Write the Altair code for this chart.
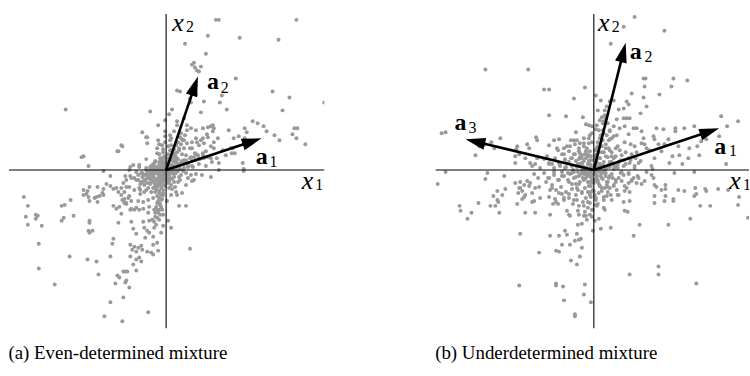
import altair as alt
import pandas as pd

# ---------------- data (offsets from the origin of each panel) ----------------
# Panel (a): even-determined mixture, points per quadrant (x1, x2)
A_UL = [(-101,61),(-16,59),(-8,45),(-24,38),(-20,33),(-8,30),(-19,27),(-44,24),(-49,19),(-85,13),(-83,14),(-78,4),(-27,5),(-20,11),(-36,3),(-1,39),(-1,34),(-7,26),(-3,21),(-7,16),(-13,6),(-8,2),(-3,8),(-1,28),(-1,50),(-19,33),(-45,25),(-48,19),(-9,22),(-9,17),(-4,25),(-3,18),(-33,5),(-27,3),(-5,12),(-11,9),(-15,4),(-4,4),(-2,14),(-6,7)]
A_UR = [(50,151),(53,151),(131,151),(42,135),(74,133),(113,131),(19,127),(40,117),(26,106),(29,103),(31,100),(33,99),(35,104),(28,108),(70,92),(107,79),(124,73),(159,68),(56,75),(54,68),(61,61),(38,69),(117,60),(35,58),(30,76),(11,80),(14,79),(24,72),(25,68),(6,61),(3,56),(11,49),(18,52),(45,44),(48,42),(63,40),(79,42),(87,49),(92,47),(98,44),(101,39),(129,42),(132,42),(127,36),(131,32),(109,35),(114,30),(140,26),(79,32),(81,38),(73,34),(68,32),(52,32),(41,36),(37,32),(31,28),(66,17),(69,17),(57,20),(60,15),(77,7),(78,1),(53,7),(51,12),(45,12),(40,19),(48,22),(37,17),(29,17),(26,22),(18,22),(16,31),(15,37),(8,39),(5,32),(4,35),(4,30),(5,25),(6,20),(8,17),(10,13),(12,11),(15,8),(11,45),(21,45),(25,42),(30,40),(37,42),(42,43),(47,45),(47,39),(18,30),(21,27),(24,22),(26,28),(30,32),(33,25),(35,30),(38,27),(42,33),(45,24),(48,28),(16,16),(20,15),(25,13),(30,16),(33,12),(37,15),(42,13),(22,5),(27,3),(33,6),(40,4),(46,8),(65,22),(67,22),(3,3),(6,5),(9,8),(2,9),(13,4),(18,10),(7,13),(2,24),(10,26),(13,20)]
A_LL = [(-63,-1),(-56,-6),(-41,-6),(-36,-6),(-60,-14),(-56,-16),(-53,-19),(-50,-18),(-77,-17),(-69,-17),(-63,-19),(-64,-23),(-83,-20),(-79,-21),(-80,-24),(-83,-25),(-78,-27),(-72,-28),(-70,-27),(-67,-26),(-63,-25),(-77,-31),(-69,-32),(-143,-27),(-139,-36),(-141,-47),(-139,-55),(-131,-45),(-129,-46),(-131,-49),(-125,-56),(-105,-36),(-102,-35),(-96,-30),(-93,-46),(-105,-51),(-103,-48),(-128,-74),(-128,-99),(-97,-87),(-112,-115),(-79,-90),(-70,-92),(-68,-105),(-77,-51),(-77,-53),(-78,-61),(-77,-63),(-74,-61),(-56,-87),(-54,-74),(-53,-69),(-45,-44),(-48,-53),(-53,-36),(-50,-39),(-44,-30),(-42,-33),(-40,-34),(-42,-29),(-38,-28),(-35,-31),(-37,-26),(-48,-22),(-40,-17),(-45,-18),(-28,-31),(-27,-40),(-32,-40),(-36,-40),(-35,-52),(-33,-59),(-30,-64),(-23,-52),(-22,-58),(-17,-51),(-19,-61),(-17,-63),(-13,-67),(-21,-68),(-13,-75),(-8,-81),(-15,-83),(-13,-85),(-5,-63),(-3,-56),(-36,-75),(-32,-77),(-28,-78),(-25,-76),(-24,-80),(-30,-82),(-34,-80),(-36,-87),(-30,-90),(-27,-88),(-25,-92),(-33,-95),(-30,-101),(-43,-102),(-41,-102),(-39,-102),(-40,-111),(-41,-113),(-49,-106),(-47,-108),(-51,-114),(-37,-118),(-43,-128),(-56,-133),(-62,-147),(-44,-152),(-18,-143),(-9,-73),(-19,-82),(-37,0),(-30,-2),(-25,-3),(-20,-5),(-17,-8),(-13,-7),(-10,-3),(-7,-7),(-12,-12),(-17,-13),(-22,-15),(-25,-12),(-30,-10),(-35,-8),(-40,-10),(-43,-13),(-37,-17),(-32,-20),(-27,-18),(-20,-20),(-15,-22),(-10,-20),(-7,-23),(-13,-28),(-18,-30),(-23,-32),(-17,-37),(-12,-40),(-8,-43),(-18,-43),(-23,-39),(-30,-38),(-35,-39),(-40,-33),(-43,-30),(-45,-25),(-42,-22),(-47,-37),(-5,-30),(-6,-35),(-4,-40),(-9,-33),(-11,-47),(-7,-50),(-10,-55),(-12,-58),(-6,-45),(-3,-25),(-2,-15),(-4,-10),(-8,-15),(-3,-45),(-14,-50),(-3,-3),(-6,-5),(-2,-6),(-9,-10),(-5,-18),(-11,-16),(-4,-2),(-14,-2),(-21,-10),(-26,-24)]
A_LR = [(78,-1),(53,0),(45,-7),(36,-5),(26,-11),(20,-15),(16,-23),(11,-25),(5,-25),(6,-19),(13,-36),(20,-36),(2,-51),(5,-58),(24,-79),(1,-31),(10,-3),(15,-5),(8,-7),(3,-10),(12,-12),(5,-15),(9,-17),(14,-10),(12,-1),(17,-1),(20,-3),(25,-5),(28,-10),(13,-7),(8,-12),(10,-22),(2,-13),(3,-18),(4,-2),(2,-5),(6,-3),(1,-8),(30,-4),(22,-8)]
# dense core of panel (a)
A_CORE = [(0,0),(4,0),(-4,0),(8,0),(-8,0),(12,0),(-12,0),(-16,0),(-20,0),(0,4),(4,4),(-4,4),(8,4),(-8,4),(-12,4),(-16,3),(-20,2),(0,-4),(4,-4),(-4,-4),(8,-4),(-8,-4),(-12,-4),(-16,-4),(-20,-4),(-24,-3),(0,8),(3,8),(-3,8),(7,9),(-7,8),(11,7),(-11,8),(0,-8),(4,-8),(-4,-8),(-8,-8),(-12,-8),(-16,-9),(-20,-9),(-24,-7),(2,12),(-2,12),(6,13),(10,11),(-6,12),(0,-12),(-4,-12),(-8,-12),(-12,-13),(-16,-14),(-20,-13),(3,-12),(6,-9),(2,16),(6,17),(9,15),(-1,-16),(-5,-16),(-9,-17),(-13,-18),(-3,-20),(-7,-21),(-11,-22),(-5,-25),(-9,-26),(-4,-29),(-8,-31),(-6,-34),(-10,-37),(-7,-40),(-11,-43),(-9,-48),(-12,-52),(14,5),(18,6),(22,7),(26,9),(30,10),(34,11),(38,12),(16,9),(20,10),(24,12),(28,13),(32,15),(14,1),(18,2),(22,3),(26,4),(11,18),(13,22),(15,26),(17,30),(12,28),(19,35),(14,33),(21,40),(8,21),(10,25),(4,20),(-28,-10),(-24,-12),(-28,-5),(-32,-8),(-18,-18),(-22,-22),(-26,-20),
          (2,2),(6,2),(-2,2),(-6,2),(-10,2),(-14,1),(-18,-2),(2,-2),(6,-2),(-2,-2),(-6,-2),(-10,-2),(-14,-3),(-18,-6),(-22,-5),(2,6),(-2,6),(-6,-10),(-10,-10),(-14,-11),(-2,-10),(2,-10),(-6,-14),(-10,-15),(5,10),(-5,10),(10,3),(-26,-14),(-22,-10),(-14,-6),(-3,-23),(-7,-28),(-5,-37),(-9,-40)]

# Panel (b): underdetermined mixture
B_UL = [(-109,101),(-66,101),(-50,81),(-45,81),(-9,83),(-20,72),(-45,55),(-28,54),(-11,53),(-8,46),(-5,45),(-2,44),(-18,38),(-17,30),(-20,30),(-23,30),(-27,24),(-35,31),(-40,30),(-45,25),(-58,33),(-57,30),(-65,22),(-67,26),(-77,24),(-78,21),(-75,16),(-79,14),(-69,12),(-64,7),(-79,7),(-94,32),(-103,28),(-100,22),(-111,25),(-115,24),(-119,15),(-149,38),(-153,37),(-54,2),(-50,11),(-47,14),(-45,7),(-42,6),(-39,12),(-35,7),(-32,16),(-29,11),(-25,19),(-22,12),(-19,16),(-15,19),(-12,12),(-9,16),(-7,22),(-5,9),(-14,6),(-10,2),(-22,4),(-29,2),(-19,26),(-14,27),(-10,32),(-5,32),(-5,27),(-2,37),(-4,19),(-15,11),(-34,4),(-40,2),(-59,6),(-62,4),(-57,12),(-3,3),(-6,6),(-2,10),(-8,12),(-12,7),(-17,3),(-25,8),(-3,14),(-7,2),(-36,20),(-30,22),(-10,24)]
B_UR = [(41,154),(30,144),(71,140),(17,127),(50,92),(52,92),(80,92),(94,90),(78,84),(51,84),(66,76),(38,77),(50,73),(20,70),(16,69),(13,64),(33,69),(35,66),(30,62),(25,61),(53,64),(47,57),(11,55),(12,52),(8,53),(10,49),(30,52),(33,52),(36,52),(23,51),(40,42),(43,42),(48,39),(31,44),(26,42),(35,36),(20,44),(16,39),(13,35),(18,32),(23,35),(63,42),(70,41),(82,42),(82,39),(91,42),(101,44),(128,54),(134,44),(145,49),(60,34),(61,31),(50,32),(48,27),(51,26),(41,24),(37,26),(75,31),(65,26),(53,22),(56,20),(68,19),(85,24),(86,15),(95,12),(108,29),(113,31),(104,24),(126,34),(133,6),(61,12),(58,4),(76,7),(45,7),(41,4),(35,12),(89,6),(106,15),(96,22),(71,26),(79,14),(59,1),(3,45),(5,40),(7,35),(9,30),(4,28),(8,24),(12,26),(15,22),(18,18),(22,22),(26,20),(28,15),(32,18),(30,10),(25,8),(20,12),(16,8),(12,14),(10,18),(6,12),(3,8),(8,5),(14,3),(20,5),(24,2),(30,4),(36,7),(38,16),(42,12),(2,20),(1,15),(5,18),(15,30),(9,40),(6,50),(4,60),(7,70),(2,75),(11,60),(14,47),(3,3),(6,1),(2,6)]
B_LL = [(-149,-2),(-157,-14),(-109,-9),(-107,-3),(-90,-6),(-97,-21),(-92,-25),(-89,-19),(-97,-30),(-104,-36),(-99,-36),(-95,-43),(-96,-32),(-101,-26),(-116,-33),(-123,-43),(-127,-49),(-135,-36),(-134,-41),(-79,-13),(-74,-12),(-75,-18),(-70,-15),(-67,-11),(-65,-16),(-72,-21),(-76,-23),(-69,-25),(-62,-23),(-59,-18),(-55,-17),(-64,-13),(-70,-27),(-72,-29),(-77,-34),(-62,-32),(-60,-31),(-54,-28),(-45,-27),(-69,-43),(-59,-43),(-74,-64),(-75,-116),(-55,-83),(-44,-45),(-44,-66),(-35,-66),(-32,-75),(-38,-81),(-35,-82),(-29,-61),(-27,-65),(-24,-75),(-19,-71),(-15,-70),(-13,-69),(-12,-78),(-14,-87),(-23,-91),(-17,-95),(-16,-55),(-12,-54),(-17,-64),(-38,-114),(-38,-116),(-31,-117),(-30,-131),(-9,-115),(-10,-125),(-3,-133),(-19,-145),(-19,-147),(-1,-61),(-2,-47),(-27,-41),(-25,-45),(-24,-46),(-15,-45),(-10,-46),(-39,-29),(-38,-32),(-36,-34),(-41,-34),(-35,-23),(-32,-24),(-50,-3),(-45,-8),(-40,-5),(-35,-10),(-30,-6),(-25,-12),(-20,-8),(-15,-14),(-10,-10),(-5,-16),(-48,-12),(-42,-15),(-38,-20),(-33,-17),(-28,-22),(-22,-19),(-18,-25),(-12,-22),(-8,-28),(-4,-33),(-6,-22),(-3,-6),(-8,-4),(-14,-5),(-20,-2),(-26,-3),(-32,-2),(-2,-12),(-11,-32),(-15,-36),(-6,-38),(-9,-42),(-20,-30),(-25,-28),(-30,-30),(-3,-27),(-1,-20),(-17,-18),(-44,-20),(-56,-8),(-60,-4),(-3,-2),(-6,-6),(-8,-8),(-10,-1),(-4,-12),(-12,-3),(-7,-3),(-3,-7),(-1,-40),(-4,-45),(-7,-50),(-74,-18)]
B_LR = [(81,-3),(101,-2),(61,-15),(63,-17),(68,-20),(72,-19),(72,-15),(85,-20),(91,-21),(102,-18),(113,-21),(125,-19),(135,-20),(146,-27),(145,-35),(155,-48),(61,-26),(61,-33),(72,-26),(71,-31),(80,-29),(80,-31),(101,-26),(103,-24),(112,-19),(107,-36),(117,-36),(97,-49),(75,-55),(46,-55),(40,-66),(17,-58),(7,-59),(5,-49),(1,-51),(31,-41),(30,-32),(18,-30),(10,-30),(13,-26),(10,-38),(11,-40),(1,-35),(3,-36),(36,-31),(34,-42),(65,-97),(65,-105),(36,-105),(103,-114),(25,-25),(23,-20),(31,-21),(33,-18),(35,-13),(38,-11),(43,-13),(48,-14),(51,-11),(45,-8),(40,-8),(35,-3),(30,-5),(25,-8),(20,-15),(16,-18),(11,-18),(8,-21),(5,-23),(1,-25),(58,-5),(53,-2),(60,-8),(2,-4),(5,-1),(8,-8),(1,-10),(10,-1),(4,-12),(12,-3),(7,-3),(3,-7),(15,-8),(18,-4),(22,-10),(27,-3),(13,-12),(17,-25),(6,-16),(2,-30)]
# dense core of panel (b)
B_CORE = [(0,0),(4,1),(-4,-1),(1,4),(-1,-4),(8,2),(-8,-2),(2,8),(-2,-9),(6,6),(-6,-5),(7,-6),(-5,7),(12,1),(-12,0),(1,12),(0,-13),(10,8),(-11,-8),(9,-9),(-10,9),(16,3),(-16,-2),(3,16),(-3,-16),(14,-12),(-14,13),(14,13),(-14,-12),(20,1),(-21,0),(1,20),(0,-21),(18,8),(-18,-7),(8,18),(-9,-18),(19,-8),(-18,9),(8,-18),(-8,19),(24,5),(-24,-4),(4,24),(-4,-25),(22,-12),(-23,12),(12,22),(-12,-23),(22,14),(-22,-14),(14,-22),(-15,22),(28,-2),(-28,3),(-2,28),(2,-28),(27,10),(-26,-10),(10,-27),(-10,27),(28,-11),(-29,10),(32,6),(-32,-6),(6,32),(-6,-32),(31,-16),(-30,16),(16,31),(-17,-30),(35,-4),(-34,5),(4,-34),(-4,35),(37,10),(-36,-10),(10,37),(-10,-36),(38,-10),(-39,11),(24,24),(-25,-24),(24,-25),(-24,24),(41,2),(-40,-2),(2,41),(-2,-40),(44,-6),(-45,6),(31,28),(-30,-28),(-21,-34),(20,34),(47,9),(-46,-8),(-8,-46),(9,47),(43,18),(-42,-18),(36,-22),(-37,22),(-16,-41),(16,40),(-12,15),(13,-15),(5,-14),(-6,14),(15,5),(-15,-6),
          (2,-2),(-2,2),(5,3),(-5,-3),(3,-5),(-3,5),(10,4),(-10,-4),(4,-10),(-4,10),(10,-3),(-10,3),(6,12),(-6,-12),(12,-6),(-12,6),(16,-6),(-16,6),(6,-16),(-6,16),(18,14),(-18,-14),(14,-17),(-14,17),(22,3),(-22,-3),(3,22),(-3,-22),(20,-16),(-20,16),(16,20),(-16,-20)]

# mixing vectors (arrow tips)
A_ARROWS = [("a1", 96, 32), ("a2", 32, 94)]
B_ARROWS = [("a1", 126, 42), ("a2", 32, 128), ("a3", -129, 31)]

# labels: text, x, y, kind
A_LABELS = [("x", 12, 148, "var"), ("2", 24, 144, "sub"),
            ("x", 142, -11, "var"), ("1", 154, -15, "sub"),
            ("a", 47, 88, "vec"), ("2", 59, 82, "sub"),
            ("a", 96, 13, "vec"), ("1", 108, 8, "sub")]
B_LABELS = [("x", 10, 148, "var"), ("2", 22, 144, "sub"),
            ("x", 142, -11, "var"), ("1", 154, -15, "sub"),
            ("a", 42, 119, "vec"), ("2", 55, 114, "sub"),
            ("a", 127, 23, "vec"), ("1", 140, 19, "sub"),
            ("a", -134, 47, "vec"), ("3", -122, 42, "sub")]

CAPTIONS = ["(a) Even-determined mixture", "(b) Underdetermined mixture"]

# ---------------- chart ----------------
FONT = "Liberation Serif"
HEAD = "M0,0L-0.3,1L0.3,1Z"


def panel(points, arrows, labels, xdom, ydom, w, h, caption):
    pts = pd.DataFrame(points, columns=["x", "y"])
    arr = pd.DataFrame(arrows, columns=["name", "tx", "ty"])
    lab = pd.DataFrame(labels, columns=["t", "x", "y", "kind"])
    origin = pd.DataFrame({"x": [0], "y": [0]})
    xs = alt.Scale(domain=xdom, nice=False, zero=False)
    ys = alt.Scale(domain=ydom, nice=False, zero=False)

    dots = alt.Chart(pts).mark_circle(size=16, color="#999999", opacity=1, clip=True).encode(
        x=alt.X("x:Q", scale=xs, axis=None), y=alt.Y("y:Q", scale=ys, axis=None))
    hline = alt.Chart(origin).mark_rule(color="black", strokeWidth=1.1).encode(
        y=alt.Y("y:Q", scale=ys, axis=None))
    vline = alt.Chart(origin).mark_rule(color="black", strokeWidth=1.1).encode(
        x=alt.X("x:Q", scale=xs, axis=None))
    shaft = alt.Chart(arr).transform_calculate(
        L="sqrt(datum.tx*datum.tx + datum.ty*datum.ty)",
        x0="0", y0="0",
    ).transform_calculate(
        sx="datum.tx * (1 - 12 / datum.L)", sy="datum.ty * (1 - 12 / datum.L)"
    ).mark_rule(color="black", strokeWidth=2.6).encode(
        x=alt.X("x0:Q", scale=xs, axis=None), y=alt.Y("y0:Q", scale=ys, axis=None),
        x2="sx:Q", y2="sy:Q")
    head = alt.Chart(arr).transform_calculate(
        ang="(atan2(datum.tx, datum.ty) * 180 / PI + 360) % 360"
    ).mark_point(shape=HEAD, filled=True, size=1600, color="black", opacity=1,
                 strokeWidth=0).encode(
        x=alt.X("tx:Q", scale=xs, axis=None), y=alt.Y("ty:Q", scale=ys, axis=None),
        angle=alt.Angle("ang:Q", scale=None))

    def txt(kind, **kw):
        return alt.Chart(lab).transform_filter(alt.datum.kind == kind).mark_text(
            font=FONT, align="center", baseline="middle", color="black", clip=True, **kw
        ).encode(x=alt.X("x:Q", scale=xs, axis=None), y=alt.Y("y:Q", scale=ys, axis=None),
                 text="t:N")

    var = txt("var", fontSize=26, fontStyle="italic")
    vec = txt("vec", fontSize=24, fontWeight="bold")
    sub = txt("sub", fontSize=16)

    return alt.layer(dots, hline, vline, shaft, head, var, vec, sub).properties(
        width=w, height=h,
        title=alt.TitleParams(caption, orient="bottom", anchor="start", font=FONT,
                              fontSize=19, fontWeight="normal", color="black", offset=15),
    )


pa = panel(A_UL + A_UR + A_LL + A_LR + A_CORE, A_ARROWS, A_LABELS,
           [-158, 159], [-159, 157], 317, 316, CAPTIONS[0])
pb = panel(B_UL + B_UR + B_LL + B_LR + B_CORE, B_ARROWS, B_LABELS,
           [-159, 156], [-159, 157], 315, 316, CAPTIONS[1])

chart = alt.hconcat(pa, pb, spacing=110).properties(
    padding={"left": 8, "top": 12, "right": 0, "bottom": 0}
).configure_view(stroke=None)

chart.save("out.html", embed_options={"renderer": "svg", "actions": False})
